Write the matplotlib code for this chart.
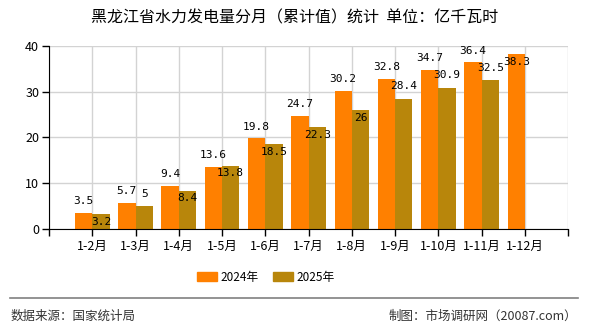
import numpy as np
import matplotlib
matplotlib.use('Agg')
import matplotlib.pyplot as plt
from matplotlib.patches import Patch
from matplotlib.lines import Line2D

plt.rcParams['font.family'] = ['Noto Sans CJK SC', 'DejaVu Sans']

months = ['1-2月', '1-3月', '1-4月', '1-5月', '1-6月', '1-7月',
          '1-8月', '1-9月', '1-10月', '1-11月', '1-12月']
v2024 = [3.5, 5.7, 9.4, 13.6, 19.8, 24.7, 30.2, 32.8, 34.7, 36.4, 38.3]
v2025 = [3.2, 5, 8.4, 13.8, 18.5, 22.3, 26, 28.4, 30.9, 32.5]
lab2024 = ['3.5', '5.7', '9.4', '13.6', '19.8', '24.7', '30.2', '32.8', '34.7', '36.4', '38.3']
lab2025 = ['3.2', '5', '8.4', '13.8', '18.5', '22.3', '26', '28.4', '30.9', '32.5']
# labels drawn just inside the bar top instead of above it
in2024 = [10]
in2025 = [0, 2, 3, 4, 5, 6]

c24 = '#ff8000'
c25 = '#b8860b'

fig = plt.figure(figsize=(5.9, 3.3), dpi=100)
ax = fig.add_axes([0.083, 0.306, 0.88, 0.555])

x = np.arange(len(months))
w = 0.4
ax.bar(x[:len(v2024)] - w / 2, v2024, w, color=c24, zorder=2)
ax.bar(x[:len(v2025)] - w / 2 + w, v2025, w, color=c25, zorder=2)

lfont = dict(family='DejaVu Sans Mono', fontsize=8, color='black', zorder=3)
for i, v in enumerate(v2024):
    if i in in2024:
        ax.annotate(lab2024[i], (x[i] - w / 2, v), xytext=(0, -6), textcoords='offset points',
                    ha='center', va='center', **lfont)
    else:
        ax.annotate(lab2024[i], (x[i] - w / 2, v), xytext=(0, 8.5), textcoords='offset points',
                    ha='center', va='center', **lfont)
for i, v in enumerate(v2025):
    if i in in2025:
        ax.annotate(lab2025[i], (x[i] + w / 2, v), xytext=(0, -5.5), textcoords='offset points',
                    ha='center', va='center', **lfont)
    else:
        ax.annotate(lab2025[i], (x[i] + w / 2, v), xytext=(0, 9), textcoords='offset points',
                    ha='center', va='center', **lfont)

ax.set_xlim(-1, 11)
ax.set_ylim(0, 40)
ax.set_yticks([0, 10, 20, 30, 40])
ax.set_xticks(np.arange(-1, 12))
ax.set_xticklabels([''] + months + [''])
ax.tick_params(axis='both', length=5, width=1, color='black', labelsize=9, pad=2)
ax.tick_params(axis='x', pad=3)
ax.grid(True, color='#d3d3d3', linewidth=1, zorder=0)
ax.set_axisbelow(True)
for s in ['top', 'right']:
    ax.spines[s].set_visible(False)
ax.spines['left'].set_color('black')
ax.spines['bottom'].set_color('black')
ax.spines['left'].set_zorder(4)
ax.spines['bottom'].set_zorder(4)

fig.text(0.5, 0.945, '黑龙江省水力发电量分月（累计值）统计  单位：亿千瓦时',
         ha='center', va='center', fontsize=11.5, color='black')

handles = [Patch(color=c24, label='2024年'), Patch(color=c25, label='2025年')]
fig.legend(handles=handles, loc='center', bbox_to_anchor=(0.45, 0.16), ncol=2,
           frameon=False, fontsize=8.5, handlelength=1.7, handleheight=0.8,
           handletextpad=0.3, columnspacing=1.2)

fig.add_artist(Line2D([0.017, 0.98], [0.097, 0.097], color='#808080', linewidth=1.2))
fig.text(0.017, 0.042, '数据来源：国家统计局', ha='left', va='center', fontsize=9, color='#333333')
fig.text(0.978, 0.042, '制图：市场调研网（20087.com）', ha='right', va='center', fontsize=9, color='#333333')

fig.savefig('out.png', dpi=100)
